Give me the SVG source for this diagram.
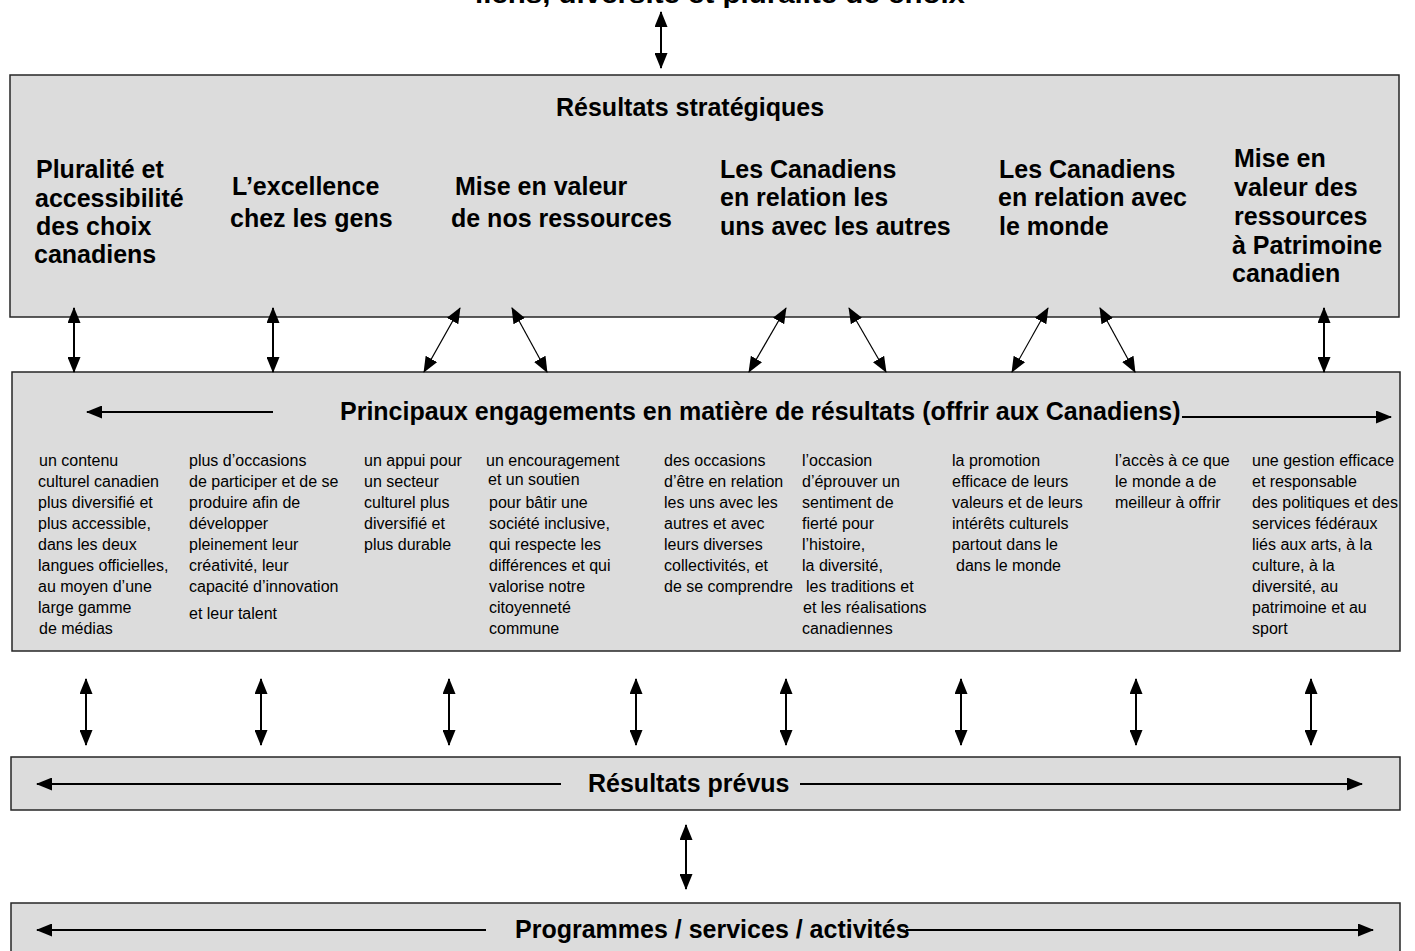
<svg xmlns="http://www.w3.org/2000/svg" width="1415" height="951" viewBox="0 0 1415 951">
<defs>
<style>
.box{fill:#dcdcdc;stroke:#262626;stroke-width:1.5}
.t{font-family:"Liberation Sans",Arial,sans-serif;font-weight:bold;font-size:25px;fill:#000}
.s{font-family:"Liberation Sans",Arial,sans-serif;font-size:16px;fill:#000}
.c{stroke:#000;stroke-width:2;fill:none}
.d{stroke:#000;stroke-width:1.2;fill:none}
.both{marker-start:url(#ah);marker-end:url(#ah)}
.one{marker-end:url(#ah)}
</style>
<marker id="ah" viewBox="0 0 16 13" refX="15" refY="6.5" markerWidth="16" markerHeight="13" markerUnits="userSpaceOnUse" orient="auto-start-reverse">
<path d="M0,0 L16,6.5 L0,13 z" fill="#000"/>
</marker>
</defs>
<rect width="1415" height="951" fill="#fff"/>

<g id="top-label">
<text class="t" x="475" y="3" textLength="490" lengthAdjust="spacingAndGlyphs">liens, diversité et pluralité de choix</text>
</g>

<g id="strategic">
<rect class="box" x="10" y="75" width="1389" height="242"/>
<text class="t" x="556" y="116">Résultats stratégiques</text>
<text class="t" x="36" y="178">Pluralité et</text>
<text class="t" x="35" y="207">accessibilité</text>
<text class="t" x="36" y="235">des choix</text>
<text class="t" x="34" y="263">canadiens</text>
<text class="t" x="232" y="195">L’excellence</text>
<text class="t" x="230" y="227">chez les gens</text>
<text class="t" x="455" y="195">Mise en valeur</text>
<text class="t" x="451" y="227">de nos ressources</text>
<text class="t" x="720" y="178">Les Canadiens</text>
<text class="t" x="720" y="206">en relation les</text>
<text class="t" x="720" y="235">uns avec les autres</text>
<text class="t" x="999" y="178">Les Canadiens</text>
<text class="t" x="998" y="206">en relation avec</text>
<text class="t" x="999" y="235">le monde</text>
<text class="t" x="1234" y="167">Mise en</text>
<text class="t" x="1234" y="196">valeur des</text>
<text class="t" x="1234" y="225">ressources</text>
<text class="t" x="1232" y="254">à Patrimoine</text>
<text class="t" x="1232" y="282">canadien</text>
</g>

<g id="commitments">
<rect class="box" x="12" y="372" width="1388" height="279"/>
<text class="t" x="340" y="420">Principaux engagements en matière de résultats (offrir aux Canadiens)</text>
<text class="s">
<tspan x="39" y="466">un contenu</tspan>
<tspan x="38" y="487">culturel canadien</tspan>
<tspan x="38" y="508">plus diversifié et</tspan>
<tspan x="38" y="529">plus accessible,</tspan>
<tspan x="38" y="550">dans les deux</tspan>
<tspan x="38" y="571">langues officielles,</tspan>
<tspan x="38" y="592">au moyen d’une</tspan>
<tspan x="38" y="613">large gamme</tspan>
<tspan x="39" y="634">de médias</tspan>
</text>
<text class="s">
<tspan x="189" y="466">plus d’occasions</tspan>
<tspan x="189" y="487">de participer et de se</tspan>
<tspan x="189" y="508">produire afin de</tspan>
<tspan x="189" y="529">développer</tspan>
<tspan x="189" y="550">pleinement leur</tspan>
<tspan x="189" y="571">créativité, leur</tspan>
<tspan x="189" y="592">capacité d’innovation</tspan>
<tspan x="189" y="619">et leur talent</tspan>
</text>
<text class="s">
<tspan x="364" y="466">un appui pour</tspan>
<tspan x="364" y="487">un secteur</tspan>
<tspan x="364" y="508">culturel plus</tspan>
<tspan x="364" y="529">diversifié et</tspan>
<tspan x="364" y="550">plus durable</tspan>
</text>
<text class="s">
<tspan x="486" y="466">un encouragement</tspan>
<tspan x="488" y="485">et un soutien</tspan>
<tspan x="489" y="508">pour bâtir une</tspan>
<tspan x="489" y="529">société inclusive,</tspan>
<tspan x="489" y="550">qui respecte les</tspan>
<tspan x="489" y="571">différences et qui</tspan>
<tspan x="489" y="592">valorise notre</tspan>
<tspan x="489" y="613">citoyenneté</tspan>
<tspan x="489" y="634">commune</tspan>
</text>
<text class="s">
<tspan x="664" y="466">des occasions</tspan>
<tspan x="664" y="487">d’être en relation</tspan>
<tspan x="664" y="508">les uns avec les</tspan>
<tspan x="664" y="529">autres et avec</tspan>
<tspan x="664" y="550">leurs diverses</tspan>
<tspan x="664" y="571">collectivités, et</tspan>
<tspan x="664" y="592">de se comprendre</tspan>
</text>
<text class="s">
<tspan x="802" y="466">l’occasion</tspan>
<tspan x="802" y="487">d’éprouver un</tspan>
<tspan x="802" y="508">sentiment de</tspan>
<tspan x="802" y="529">fierté pour</tspan>
<tspan x="802" y="550">l’histoire,</tspan>
<tspan x="802" y="571">la diversité,</tspan>
<tspan x="806" y="592">les traditions et</tspan>
<tspan x="803" y="613">et les réalisations</tspan>
<tspan x="802" y="634">canadiennes</tspan>
</text>
<text class="s">
<tspan x="952" y="466">la promotion</tspan>
<tspan x="952" y="487">efficace de leurs</tspan>
<tspan x="952" y="508">valeurs et de leurs</tspan>
<tspan x="952" y="529">intérêts culturels</tspan>
<tspan x="952" y="550">partout dans le</tspan>
<tspan x="956" y="571">dans le monde</tspan>
</text>
<text class="s">
<tspan x="1115" y="466">l’accès à ce que</tspan>
<tspan x="1115" y="487">le monde a de</tspan>
<tspan x="1115" y="508">meilleur à offrir</tspan>
</text>
<text class="s">
<tspan x="1252" y="466">une gestion efficace</tspan>
<tspan x="1252" y="487">et responsable</tspan>
<tspan x="1252" y="508">des politiques et des</tspan>
<tspan x="1252" y="529">services fédéraux</tspan>
<tspan x="1252" y="550">liés aux arts, à la</tspan>
<tspan x="1252" y="571">culture, à la</tspan>
<tspan x="1252" y="592">diversité, au</tspan>
<tspan x="1252" y="613">patrimoine et au</tspan>
<tspan x="1252" y="634">sport</tspan>
</text>
</g>

<g id="planned">
<rect class="box" x="11" y="757" width="1389" height="53"/>
<text class="t" x="588" y="792">Résultats prévus</text>
</g>

<g id="programs">
<rect class="box" x="11" y="903" width="1389" height="60"/>
<text class="t" x="515" y="938">Programmes / services / activités</text>
</g>

<g id="connectors">
<line class="c both" x1="661" y1="12" x2="661" y2="68"/>
<line class="c both" x1="74" y1="308" x2="74" y2="372"/>
<line class="c both" x1="273" y1="308" x2="273" y2="372"/>
<line class="c both" x1="1324" y1="308" x2="1324" y2="372"/>
<line class="d both" x1="460" y1="308" x2="424" y2="372"/>
<line class="d both" x1="512" y1="308" x2="547" y2="372"/>
<line class="d both" x1="786" y1="308" x2="749" y2="372"/>
<line class="d both" x1="849" y1="308" x2="886" y2="372"/>
<line class="d both" x1="1048" y1="308" x2="1012" y2="372"/>
<line class="d both" x1="1100" y1="308" x2="1135" y2="372"/>
<line class="c both" x1="86" y1="679" x2="86" y2="745"/>
<line class="c both" x1="261" y1="679" x2="261" y2="745"/>
<line class="c both" x1="449" y1="679" x2="449" y2="745"/>
<line class="c both" x1="636" y1="679" x2="636" y2="745"/>
<line class="c both" x1="786" y1="679" x2="786" y2="745"/>
<line class="c both" x1="961" y1="679" x2="961" y2="745"/>
<line class="c both" x1="1136" y1="679" x2="1136" y2="745"/>
<line class="c both" x1="1311" y1="679" x2="1311" y2="745"/>
<line class="c both" x1="686" y1="825" x2="686" y2="889"/>
<line class="c one" x1="273" y1="412" x2="87" y2="412"/>
<line class="c one" x1="1182" y1="417" x2="1391" y2="417"/>
<line class="c one" x1="561" y1="784" x2="37" y2="784"/>
<line class="c one" x1="800" y1="784" x2="1362" y2="784"/>
<line class="c one" x1="486" y1="930" x2="37" y2="930"/>
<line class="c one" x1="906" y1="930" x2="1373" y2="930"/>
</g>
</svg>
